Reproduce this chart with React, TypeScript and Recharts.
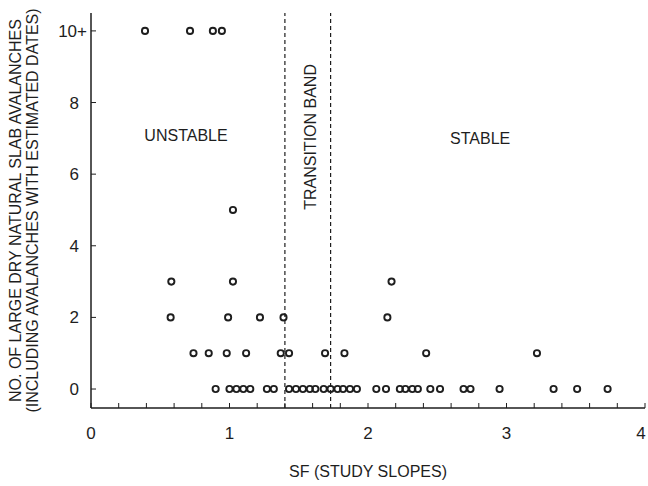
import { ScatterChart, Scatter, XAxis, YAxis, ReferenceLine, ReferenceDot } from 'recharts';

// SF of each study slope, grouped by its count of large dry natural slab avalanches
const sfNone = [
  0.9, 1.0, 1.05, 1.1, 1.15, 1.27, 1.32, 1.43, 1.48, 1.53, 1.58, 1.62, 1.68, 1.73,
  1.78, 1.82, 1.87, 1.92, 2.06, 2.13, 2.23, 2.27, 2.32, 2.36, 2.45, 2.52, 2.69, 2.74,
  2.95, 3.34, 3.51, 3.73,
];
const sfOne = [0.74, 0.85, 0.98, 1.12, 1.37, 1.43, 1.69, 1.83, 2.42, 3.22];
const sfTwo = [0.575, 0.99, 1.22, 1.39, 2.14];
const sfThree = [0.58, 1.025, 2.17];
const sfFive = [1.025];
const sfTenPlus = [0.39, 0.715, 0.88, 0.945];

const sfTicks = [0, 0.2, 0.4, 0.6, 0.8, 1, 1.2, 1.4, 1.6, 1.8, 2, 2.2, 2.4, 2.6, 2.8, 3, 3.2, 3.4, 3.6, 3.8, 4];
const countTicks = [0, 2, 4, 6, 8, 10];
const transitionBand = [1.4, 1.73];

const points = [
  ...sfNone.map(sf => ({ sf, n: 0 })),
  ...sfOne.map(sf => ({ sf, n: 1 })),
  ...sfTwo.map(sf => ({ sf, n: 2 })),
  ...sfThree.map(sf => ({ sf, n: 3 })),
  ...sfFive.map(sf => ({ sf, n: 5 })),
  ...sfTenPlus.map(sf => ({ sf, n: 10 })),
];

const INK = '#1e1e1e';

function countLabel(v: number) {
  return v === 10 ? '10+' : String(v);
}

function CountTick({ x, y, payload }: any) {
  const v = payload.value;
  return (
    <text x={v === 10 ? x + 8 : x} y={y} dy={6} textAnchor="end" fontSize={17} fill={INK}>
      {countLabel(v)}
    </text>
  );
}

function SfTick({ x, y, payload }: any) {
  const v = payload.value;
  if (!Number.isInteger(v)) return null;
  // last label sits on the frame edge, nudge it in so it stays on the page
  return (
    <text x={v === 4 ? x - 4 : x} y={y} dy={12} textAnchor="middle" fontSize={17} fill={INK}>
      {v}
    </text>
  );
}

function YTitle({ viewBox }: any) {
  const cy = viewBox.y + viewBox.height / 2;
  return (
    <g fontSize={16} fill={INK} textAnchor="middle">
      <text transform={`translate(21,${cy}) rotate(-90)`}>NO. OF LARGE DRY NATURAL SLAB AVALANCHES</text>
      <text transform={`translate(38,${cy}) rotate(-90)`}>(INCLUDING AVALANCHES WITH ESTIMATED DATES)</text>
    </g>
  );
}

function OpenCircle({ cx, cy }: any) {
  return <circle cx={cx} cy={cy} r={3.1} fill="none" stroke={INK} strokeWidth={1.9} />;
}

export default function App() {
  return (
    <div style={{ position: 'absolute', left: 0, top: 0, background: '#fff', fontFamily: "'Liberation Sans', Arial, sans-serif" }}>
      <ScatterChart width={648} height={486} margin={{ top: 13, right: 3, bottom: 0, left: 0 }}>
        <XAxis
          xAxisId="b"
          type="number"
          dataKey="sf"
          domain={[0, 4]}
          allowDataOverflow
          ticks={sfTicks}
          interval={0}
          tickSize={-5}
          tickMargin={24}
          height={78}
          axisLine={{ stroke: INK, strokeWidth: 1.5 }}
          tickLine={{ stroke: INK }}
          tick={<SfTick />}
          label={{ value: 'SF (STUDY SLOPES)', position: 'insideBottom', offset: 9, fill: INK, fontSize: 16 }}
        />
        <XAxis
          xAxisId="t"
          orientation="top"
          type="number"
          domain={[0, 4]}
          allowDataOverflow
          ticks={sfTicks}
          interval={0}
          tickFormatter={() => ''}
          tickSize={-5}
          height={0}
          axisLine={{ stroke: INK, strokeWidth: 1.5 }}
          tickLine={{ stroke: INK }}
        />
        <YAxis
          yAxisId="l"
          type="number"
          dataKey="n"
          domain={[-0.53, 10.5]}
          allowDataOverflow
          ticks={countTicks}
          interval={0}
          tickSize={-5}
          tickMargin={17}
          width={91}
          axisLine={{ stroke: INK, strokeWidth: 1.5 }}
          tickLine={{ stroke: INK }}
          tick={<CountTick />}
          label={{ content: (p: any) => <YTitle {...p} /> }}
        />
        <YAxis
          yAxisId="r"
          orientation="right"
          type="number"
          domain={[-0.53, 10.5]}
          allowDataOverflow
          ticks={countTicks}
          interval={0}
          tickFormatter={() => ''}
          tickSize={-5}
          width={0}
          axisLine={{ stroke: INK, strokeWidth: 1.5 }}
          tickLine={{ stroke: INK }}
        />
        {transitionBand.map(sf => (
          <ReferenceLine
            key={sf}
            xAxisId="b"
            yAxisId="l"
            x={sf}
            stroke={INK}
            strokeWidth={1.2}
            strokeDasharray="4 3"
          />
        ))}
        <ReferenceDot
          xAxisId="b" yAxisId="l" x={0.686} y={7.09} r={0} fill="none" stroke="none"
          label={{ value: 'UNSTABLE', position: 'center', fill: INK, fontSize: 16 }}
        />
        <ReferenceDot
          xAxisId="b" yAxisId="l" x={2.81} y={7.01} r={0} fill="none" stroke="none"
          label={{ value: 'STABLE', position: 'center', fill: INK, fontSize: 16 }}
        />
        <ReferenceDot
          xAxisId="b" yAxisId="l" x={1.58} y={7.04} r={0} fill="none" stroke="none"
          label={{ value: 'TRANSITION BAND', position: 'center', angle: -90, fill: INK, fontSize: 16 }}
        />
        <Scatter
          xAxisId="b"
          yAxisId="l"
          data={points}
          shape={<OpenCircle />}
          isAnimationActive={false}
        />
      </ScatterChart>
    </div>
  );
}
